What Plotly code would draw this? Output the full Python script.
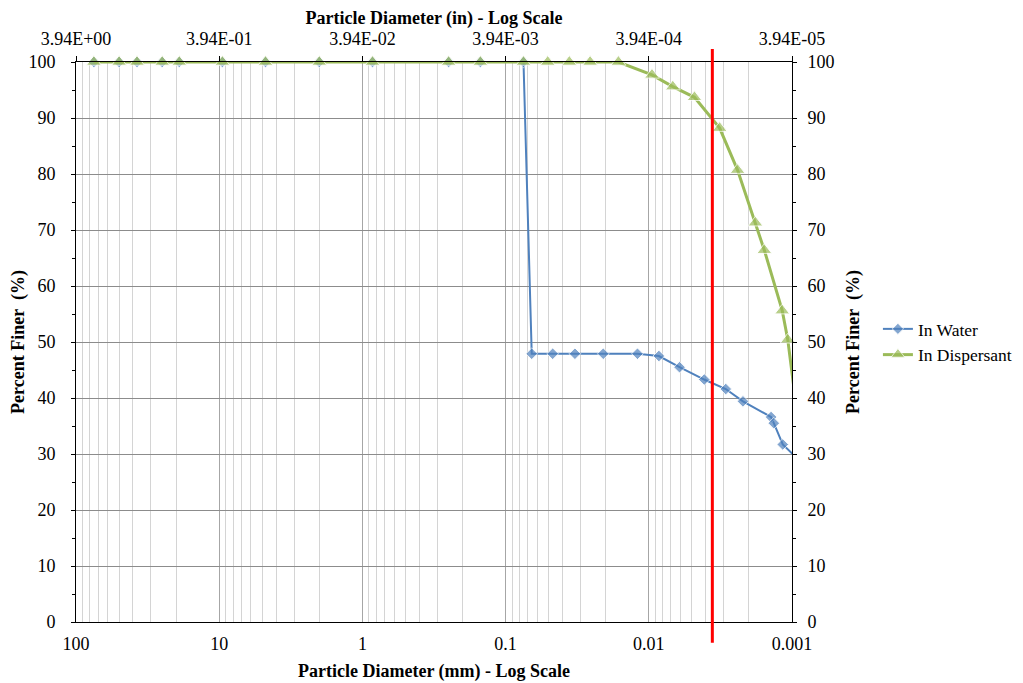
import plotly.graph_objects as go

# ---------------- data ----------------
water_d = [75, 50, 37.5, 25, 19, 9.5, 4.75, 2.0, 0.85, 0.25, 0.15, 0.075,
           0.0657, 0.0469, 0.0328, 0.0208, 0.0120, 0.0085, 0.0061, 0.0041,
           0.0029, 0.0022, 0.0014, 0.00134, 0.00116, 0.00097]
water_pct = [100, 100, 100, 100, 100, 100, 100, 100, 100, 100, 100, 100,
             47.9, 47.9, 47.9, 47.9, 47.9, 47.5, 45.5, 43.3,
             41.6, 39.4, 36.6, 35.5, 31.7, 29.8]

disp_d = [75, 50, 37.5, 25, 19, 9.5, 4.75, 2.0, 0.85, 0.25, 0.15, 0.075,
          0.0508, 0.0359, 0.0257, 0.0163,
          0.0095, 0.0068, 0.0048, 0.0032, 0.0024, 0.0018, 0.00156, 0.00117,
          0.00107, 0.00095]
disp_pct = [100, 100, 100, 100, 100, 100, 100, 100, 100, 100, 100, 100,
            100, 100, 100, 100,
            97.7, 95.6, 93.7, 88.2, 80.7, 71.3, 66.4, 55.6,
            50.4, 40.0]

red_line_mm = 0.0036

mm_ticks = [100, 10, 1, 0.1, 0.01, 0.001]
mm_labels = ["100", "10", "1", "0.1", "0.01", "0.001"]
in_labels = ["3.94E+00", "3.94E-01", "3.94E-02", "3.94E-03", "3.94E-04", "3.94E-05"]
y_ticks = list(range(0, 101, 10))

# ---------------- styling ----------------
FONT = '"Liberation Serif", "Times New Roman", serif'
BLUE = "#4F81BD"
GREEN = "#9BBB59"
X_MIN_MM = 0.001


def marker_sizes(ds, size):
    # points beyond the axis range are hidden (like Excel clipping)
    return [size if d >= X_MIN_MM else 0 for d in ds]


fig = go.Figure()

fig.add_trace(go.Scatter(
    x=water_d, y=water_pct, name="In Water", mode="lines+markers",
    line=dict(color=BLUE, width=2), cliponaxis=False,
    marker=dict(symbol="diamond", size=marker_sizes(water_d, 9), color=BLUE),
))
fig.add_trace(go.Scatter(
    x=disp_d, y=disp_pct, name="In Dispersant", mode="lines+markers",
    line=dict(color=GREEN, width=3), cliponaxis=False,
    marker=dict(symbol="triangle-up", size=marker_sizes(disp_d, 13), color=GREEN),
))
# invisible trace to activate the top/right axes
fig.add_trace(go.Scatter(
    x=disp_d, y=disp_pct, xaxis="x2", yaxis="y2", mode="markers",
    marker=dict(opacity=0), showlegend=False, hoverinfo="skip",
))

fig.add_shape(type="line", xref="x", yref="paper",
              x0=red_line_mm, x1=red_line_mm, y0=-0.037, y1=1.023,
              line=dict(color="#FF0000", width=3))

axis_font = dict(family=FONT, size=18, color="black")
title_font = dict(family=FONT, size=18, color="black")

common_x = dict(
    type="log", range=[2, -3], showline=True, linecolor="black", linewidth=1,
    tickfont=axis_font, zeroline=False, automargin=False,
)

fig.update_layout(
    width=1015, height=675,
    margin=dict(l=68, r=231, t=54, b=61, autoexpand=False),
    paper_bgcolor="white", plot_bgcolor="white",
    font=dict(family=FONT, size=18, color="black"),
    xaxis=dict(
        **common_x,
        tickvals=mm_ticks, ticktext=mm_labels,
        showgrid=True, gridcolor="#A6A6A6", gridwidth=1,
        minor=dict(showgrid=True, gridcolor="#D4D4D4", gridwidth=1,
                   dtick="D1", ticks=""),
        ticks="", ticklabelstandoff=5,
        title=dict(text="<b>Particle Diameter (mm) - Log Scale</b>",
                   font=title_font, standoff=11),
    ),
    xaxis2=dict(
        **common_x,
        overlaying="x", side="top", anchor="y",
        tickvals=mm_ticks, ticktext=in_labels,
        showgrid=False, ticks="outside", ticklen=5, tickcolor="black",
        ticklabelstandoff=4,
        title=dict(text="<b>Particle Diameter (in) - Log Scale</b>",
                   font=title_font, standoff=2),
    ),
    yaxis=dict(
        range=[0, 100], tickvals=y_ticks, showline=True, linecolor="black",
        linewidth=1, showgrid=True, gridcolor="#8C8C8C", gridwidth=1,
        zeroline=False, tickfont=axis_font, ticks="outside", ticklen=4,
        tickcolor="black", ticklabelstandoff=12, automargin=False,
        minor=dict(dtick=5, ticks="outside", ticklen=3, tickcolor="black",
                   showgrid=False),
        title=dict(text="<b>Percent Finer  (%)</b>", font=title_font, standoff=2),
    ),
    yaxis2=dict(
        range=[0, 100], tickvals=y_ticks, overlaying="y", side="right",
        anchor="x", showline=True, linecolor="black", linewidth=1,
        showgrid=False, zeroline=False, tickfont=axis_font, ticks="outside",
        ticklen=4, tickcolor="black", ticklabelstandoff=7, automargin=False,
        minor=dict(dtick=5, ticks="outside", ticklen=3, tickcolor="black",
                   showgrid=False),
        title=dict(text="<b>Percent Finer  (%)</b>", font=title_font, standoff=12),
    ),
    legend=dict(
        x=1.12, y=0.5, xanchor="left", yanchor="middle",
        font=dict(family=FONT, size=17.5, color="black"),
        bgcolor="rgba(0,0,0,0)", itemwidth=30,
    ),
    showlegend=True,
)

fig.write_html("out.html")
